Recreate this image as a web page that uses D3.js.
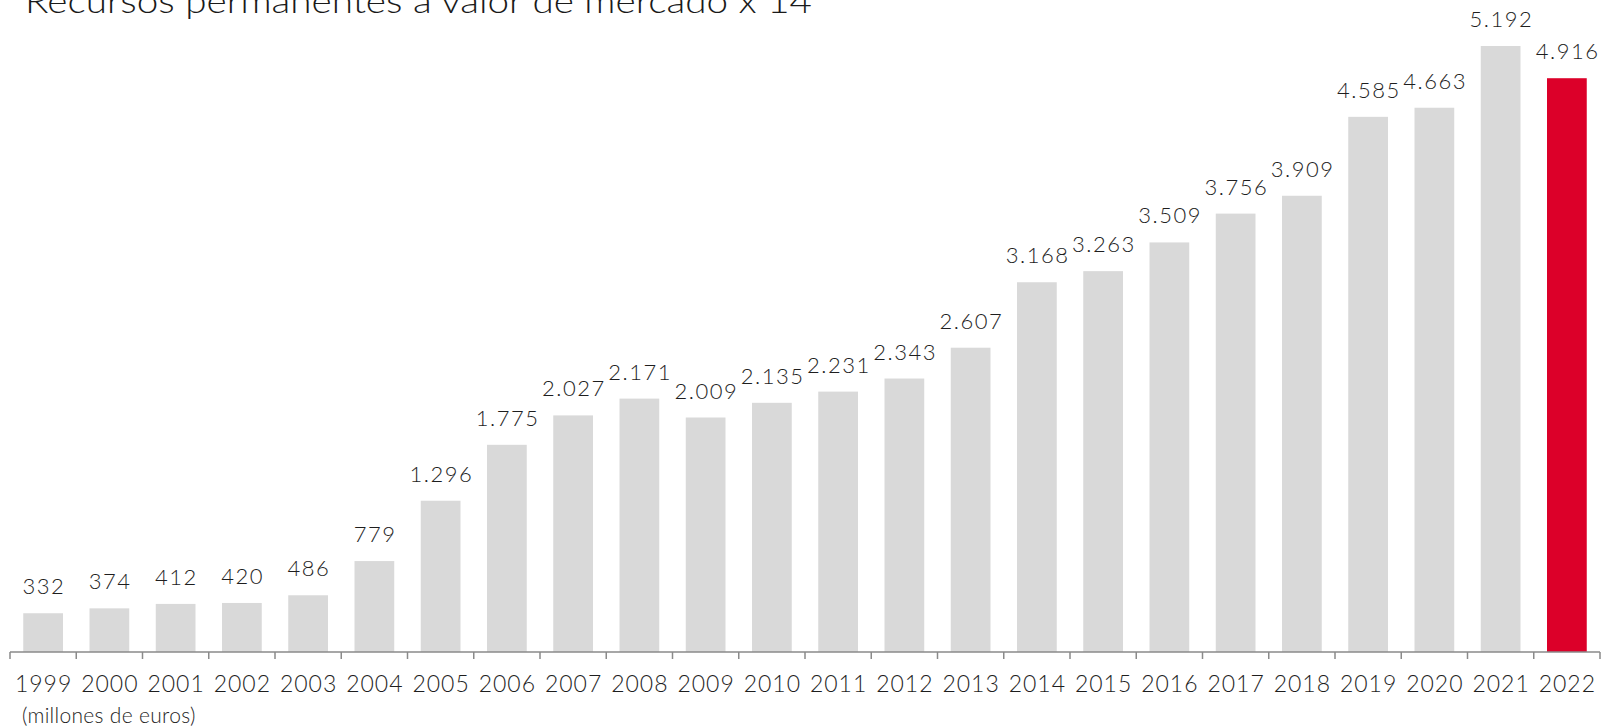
<!DOCTYPE html>
<html>
<head>
<meta charset="utf-8">
<script src="https://cdn.jsdelivr.net/npm/d3@7"></script>
<style>
  html, body { margin: 0; padding: 0; background: #fff; }
  svg { display: block; font-family: Lato, "Open Sans", sans-serif; }
</style>
</head>
<body>
<svg width="1602" height="728"></svg>
<script>
// chart data
const years = ["1999", "2000", "2001", "2002", "2003", "2004", "2005", "2006", "2007", "2008",
  "2009", "2010", "2011", "2012", "2013", "2014", "2015", "2016", "2017", "2018",
  "2019", "2020", "2021", "2022"];
const values = [332, 374, 412, 420, 486, 779, 1296, 1775, 2027, 2171,
  2009, 2135, 2231, 2343, 2607, 3168, 3263, 3509, 3756, 3909,
  4585, 4663, 5192, 4916];
const labels = ["332", "374", "412", "420", "486", "779", "1.296", "1.775", "2.027", "2.171",
  "2.009", "2.135", "2.231", "2.343", "2.607", "3.168", "3.263", "3.509", "3.756", "3.909",
  "4.585", "4.663", "5.192", "4.916"];
const title = "Recursos permanentes a valor de mercado x 14";
const unitNote = "(millones de euros)";
const highlightYear = "2022";

const svg = d3.select("svg");
const baseY = 652;

const x = d3.scaleBand().domain(years).range([10, 1600]).paddingInner(0.4).paddingOuter(0.2);
const y = d3.scaleLinear().domain([0, 5192]).range([baseY, 46]);

// bars
svg.append("g")
  .selectAll("rect")
  .data(years)
  .join("rect")
  .attr("x", (d) => x(d))
  .attr("width", x.bandwidth())
  .attr("y", (d, i) => y(values[i]))
  .attr("height", (d, i) => baseY - y(values[i]))
  .attr("fill", (d) => (d === highlightYear ? "#dc0029" : "#d9d9d9"));

// value labels
svg.append("g")
  .selectAll("text")
  .data(years)
  .join("text")
  .attr("x", (d) => x(d) + x.bandwidth() / 2 + 0.75)
  .attr("y", (d, i) => y(values[i]) - 19)
  .attr("text-anchor", "middle")
  .attr("font-size", 22)
  .attr("font-weight", 300)
  .attr("letter-spacing", 1.5)
  .attr("fill", "#1e1e1e")
  .text((d, i) => labels[i]);

// axis: line with ticks at band boundaries
const axis = svg.append("g").attr("stroke", "#8a8a8a").attr("stroke-width", 1.5);
axis.append("line")
  .attr("x1", x.range()[0]).attr("x2", x.range()[1])
  .attr("y1", baseY).attr("y2", baseY);
const step = x.step();
axis.selectAll("line.tick")
  .data(d3.range(years.length + 1))
  .join("line")
  .attr("class", "tick")
  .attr("x1", (i) => x.range()[0] + i * step)
  .attr("x2", (i) => x.range()[0] + i * step)
  .attr("y1", baseY)
  .attr("y2", baseY + 7);

// year labels
svg.append("g")
  .selectAll("text")
  .data(years)
  .join("text")
  .attr("x", (d) => x(d) + x.bandwidth() / 2 + 0.5)
  .attr("y", 692)
  .attr("text-anchor", "middle")
  .attr("font-size", 23)
  .attr("font-weight", 300)
  .attr("letter-spacing", 1)
  .attr("fill", "#1e1e1e")
  .text((d) => d);

// title (partly cut off at the top, as in the source)
svg.append("text")
  .attr("x", 25)
  .attr("y", 13)
  .attr("font-size", 34)
  .attr("font-weight", 300)
  .attr("fill", "#1a1a1a")
  .attr("textLength", 787)
  .attr("lengthAdjust", "spacingAndGlyphs")
  .text(title);

// unit note
svg.append("text")
  .attr("x", 22)
  .attr("y", 723)
  .attr("font-size", 21)
  .attr("font-weight", 300)
  .attr("letter-spacing", 0.3)
  .attr("fill", "#1e1e1e")
  .text(unitNote);
</script>
</body>
</html>
